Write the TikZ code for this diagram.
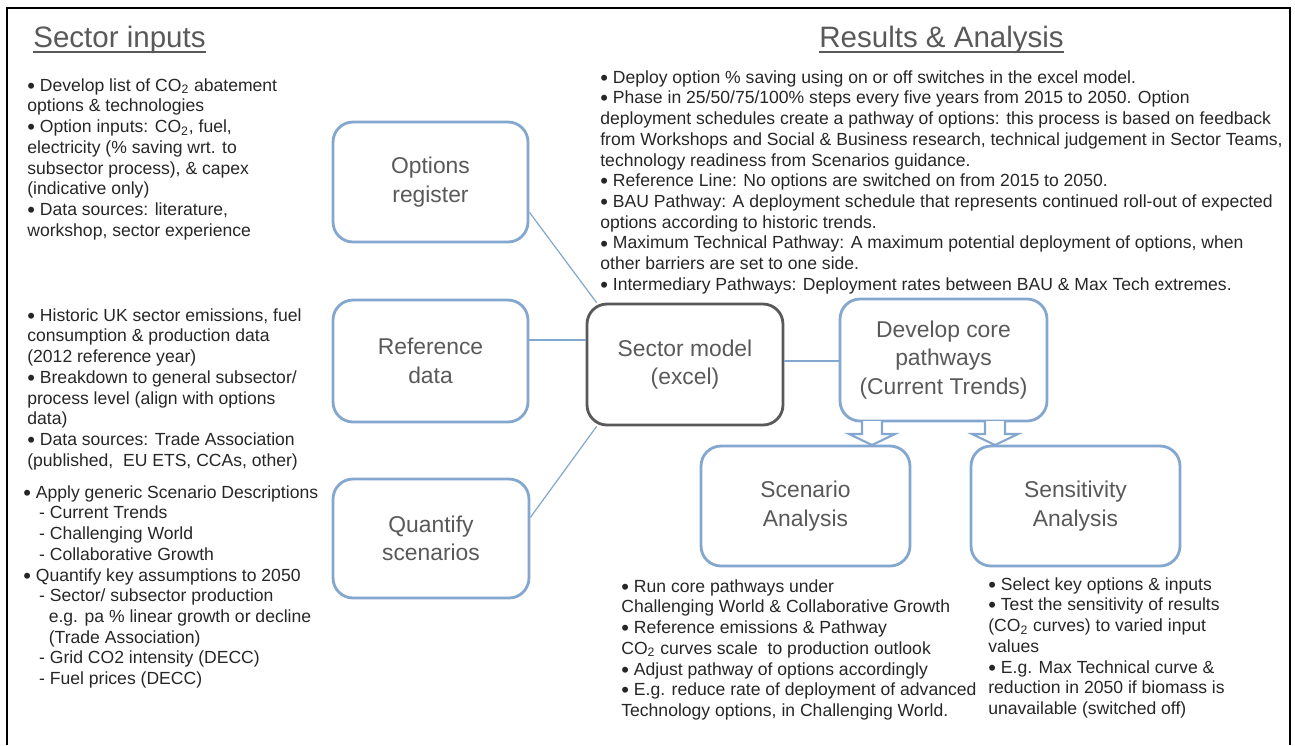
\documentclass[tikz,border=0pt]{standalone}
\usepackage{fontspec}
\setmainfont{Liberation Sans}
\definecolor{boxblue}{HTML}{84A7CF}
\definecolor{modelgray}{HTML}{595959}
\definecolor{labelgray}{HTML}{595959}
\definecolor{notetext}{HTML}{262626}
\definecolor{headgray}{HTML}{595959}
\newcommand\notefont{\fontsize{10}{11.8}\selectfont}
\newcommand\boxlabelfont{\fontsize{13}{16.2}\selectfont}
\newcommand\headingfont{\fontsize{16.8}{20}\selectfont}
\newcommand\cotwo{CO\textsubscript{2}}
\newcommand\blt{\raisebox{-1.2pt}{\fontsize{12.5}{12}\selectfont\textbullet}}

\begin{document}
\begin{tikzpicture}
        [x=0.02cm,y=-0.02cm,
        stage-box/.style={rectangle,rounded corners=0.4cm,draw=boxblue,line width=1.6pt,fill=white,align=center,font=\boxlabelfont,text=labelgray},
        model-box/.style={stage-box,draw=modelgray},
        notes/.style={inner sep=0pt,anchor=north west,align=left,font=\notefont,text=notetext},
        heading/.style={inner sep=0pt,anchor=base west,font=\headingfont,text=headgray},
        heading-rule/.style={draw=headgray,line width=0.8pt},
        link/.style={draw=boxblue,line width=0.7pt},
        hollow-arrow/.style={draw=boxblue,line width=1.2pt,fill=white,line join=miter}
        ]
        \useasboundingbox (0,0) rectangle (1295,745);
        \draw[line width=1.4pt] (7,745) -- (7,8) -- (1290,8) -- (1290,745);
        \node[heading] (inputs-title) at (33,47) {Sector inputs};
        \node[heading] (results-title) at (819,47) {Results \& Analysis};
        \draw[heading-rule] ([yshift=-2.8pt]inputs-title.base west) -- ([yshift=-2.8pt]inputs-title.base east);
        \draw[heading-rule] ([yshift=-2.8pt]results-title.base west) -- ([yshift=-2.8pt]results-title.base east);
        \node[stage-box,minimum width=3.9cm,minimum height=2.4cm] (options-register) at (430.5,182) {Options\\register};
        \node[stage-box,minimum width=3.9cm,minimum height=2.44cm] (reference-data) at (430.5,361) {Reference\\data};
        \node[stage-box,minimum width=3.92cm,minimum height=2.38cm] (quantify-scenarios) at (431,538.5) {Quantify\\scenarios};
        \node[model-box,minimum width=3.92cm,minimum height=2.42cm] (sector-model) at (685,364.5) {Sector model\\(excel)};
        \node[stage-box,minimum width=4.14cm,minimum height=2.44cm] (core-pathways) at (943.5,360) {Develop core\\pathways\\(Current Trends)};
        \node[stage-box,minimum width=4.18cm,minimum height=2.4cm] (scenario-analysis) at (805.5,506) {Scenario\\Analysis};
        \node[stage-box,minimum width=4.18cm,minimum height=2.4cm] (sensitivity-analysis) at (1075.5,506) {Sensitivity\\Analysis};
        \draw[link] (options-register.-17) -- (sector-model.145);
        \draw[link] (reference-data.12) -- (reference-data.12 -| sector-model.west);
        \draw[link] (quantify-scenarios.12) -- (sector-model.215);
        \draw[link] (sector-model.east |- 0,361) -- (core-pathways.west |- 0,361);
        \foreach \ax in {872,995}
            \draw[hollow-arrow] (\ax-10,421) -- (\ax-10,434) -- (\ax-23,434) -- (\ax,445) -- (\ax+23,434) -- (\ax+10,434) -- (\ax+10,421);
        \node[notes] (options-notes) at (27,78) {\blt{} Develop list of \cotwo{} abatement\\options \& technologies\\\blt{} Option inputs: \cotwo, fuel,\\electricity (\% saving wrt. to\\subsector process), \& capex\\(indicative only)\\\blt{} Data sources: literature,\\workshop, sector experience};
        \node[notes] (reference-notes) at (27,308) {\blt{} Historic UK sector emissions, fuel\\consumption \& production data\\(2012 reference year)\\\blt{} Breakdown to general subsector/\\process level (align with options\\data)\\\blt{} Data sources: Trade Association\\(published,\ \ EU ETS, CCAs, other)};
        \node[notes] (scenario-inputs-notes) at (23,485) {\blt{} Apply generic Scenario Descriptions\\\hspace*{9pt}- Current Trends\\\hspace*{9pt}- Challenging World\\\hspace*{9pt}- Collaborative Growth\\\blt{} Quantify key assumptions to 2050\\\hspace*{9pt}- Sector/ subsector production\\\hspace*{14.5pt}e.g. pa \% linear growth or decline\\\hspace*{14.5pt}(Trade Association)\\\hspace*{9pt}- Grid CO2 intensity (DECC)\\\hspace*{9pt}- Fuel prices (DECC)};
        \node[notes] (results-notes) at (600,70) {\blt{} Deploy option \% saving using on or off switches in the excel model.\\\blt{} Phase in 25/50/75/100\% steps every five years from 2015 to 2050. Option\\deployment schedules create a pathway of options: this process is based on feedback\\from Workshops and Social \& Business research, technical judgement in Sector Teams,\\technology readiness from Scenarios guidance.\\\blt{} Reference Line: No options are switched on from 2015 to 2050.\\\blt{} BAU Pathway: A deployment schedule that represents continued roll-out of expected\\options according to historic trends.\\\blt{} Maximum Technical Pathway: A maximum potential deployment of options, when\\other barriers are set to one side.\\\blt{} Intermediary Pathways: Deployment rates between BAU \& Max Tech extremes.};
        \node[notes] (scenario-notes) at (621,579) {\blt{} Run core pathways under\\Challenging World \& Collaborative Growth\\\blt{} Reference emissions \& Pathway\\\cotwo{} curves scale\ \ to production outlook\\\blt{} Adjust pathway of options accordingly\\\blt{} E.g. reduce rate of deployment of advanced\\Technology options, in Challenging World.};
        \node[notes] (sensitivity-notes) at (988,577) {\blt{} Select key options \& inputs\\\blt{} Test the sensitivity of results\\(\cotwo{} curves) to varied input\\values\\\blt{} E.g. Max Technical curve \&\\reduction in 2050 if biomass is\\unavailable (switched off)};
    \end{tikzpicture}
\end{document}
